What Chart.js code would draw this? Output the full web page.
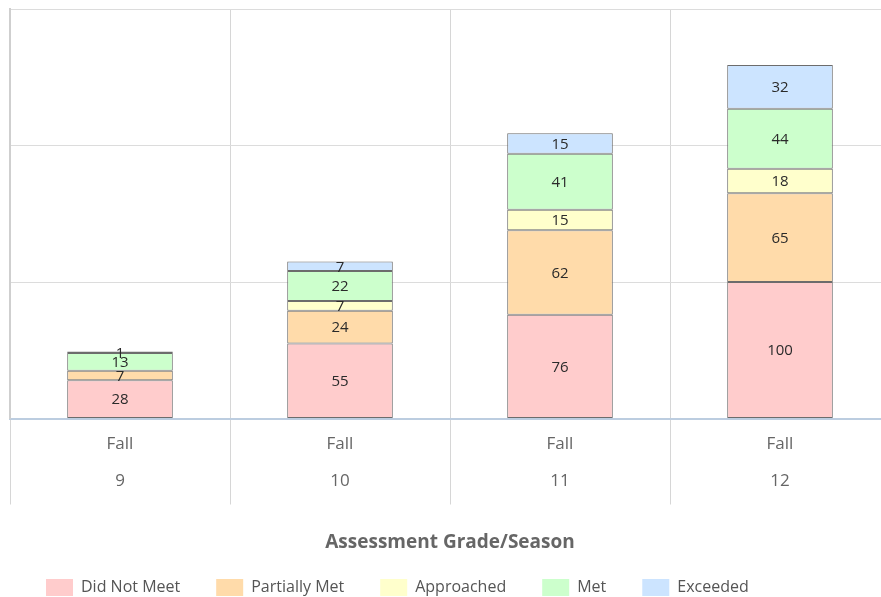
<!DOCTYPE html>
<html>
<head>
<meta charset="utf-8">
<script src="https://cdn.jsdelivr.net/npm/chart.js@4/dist/chart.umd.min.js"></script>
<style>
  html, body { margin: 0; padding: 0; background: #fff; overflow: hidden; }
  #wrap { position: relative; width: 900px; height: 597px; }
</style>
</head>
<body>
<div id="wrap"><canvas id="chart"></canvas></div>
<script>
// Categories: season on the first line, grade on the second
const categories = [["Fall", "9"], ["Fall", "10"], ["Fall", "11"], ["Fall", "12"]];

// Student counts per performance level
const didNotMeet   = [28, 55, 76, 100];
const partiallyMet = [7, 24, 62, 65];
const approached   = [0, 7, 15, 18];
const met          = [13, 22, 41, 44];
const exceeded     = [1, 7, 15, 32];

const seriesNames  = ["Did Not Meet", "Partially Met", "Approached", "Met", "Exceeded"];
const seriesColors = ["#ffcccc", "#ffdbaa", "#ffffcc", "#ccffcc", "#cce4ff"];
const seriesValues = [didNotMeet, partiallyMet, approached, met, exceeded];

const FONT = "'Open Sans', 'DejaVu Sans', sans-serif";

// Writes each segment's count in the middle of its segment
const segmentLabels = {
  id: "segmentLabels",
  afterDatasetsDraw(chart) {
    const ctx = chart.ctx;
    ctx.save();
    ctx.font = "15px " + FONT;
    ctx.fillStyle = "#2a2a2a";
    ctx.textAlign = "center";
    ctx.textBaseline = "middle";
    chart.data.datasets.forEach((ds, di) => {
      chart.getDatasetMeta(di).data.forEach((bar, i) => {
        const v = ds.data[i];
        if (!v) return;
        const mid = (bar.y + bar.base) / 2;
        ctx.fillText(String(v), bar.x, mid + 1);
      });
    });
    ctx.restore();
  }
};

new Chart(document.getElementById("chart"), {
  type: "bar",
  data: {
    labels: categories,
    datasets: seriesNames.map((name, k) => ({
      label: name,
      data: seriesValues[k],
      backgroundColor: seriesColors[k],
      borderColor: "#6c6c6c",
      borderWidth: 1,
      borderSkipped: false,
      barPercentage: 0.48,
      categoryPercentage: 1.0
    }))
  },
  options: {
    responsive: true,
    maintainAspectRatio: false,
    animation: false,
    layout: { padding: { left: 10, right: 10, top: 9, bottom: -9 } },
    scales: {
      x: {
        stacked: true,
        offset: true,
        grid: {
          offset: true,
          color: "#d6d6d6",
          lineWidth: 1,
          tickLength: 86,
          tickColor: "#d6d6d6"
        },
        border: { display: true, color: "#bccde0", width: 2 },
        ticks: {
          color: "#666",
          padding: -79,
          font: { family: FONT, size: 17, lineHeight: 36.8 / 17 }
        },
        title: {
          display: true,
          text: "Assessment Grade/Season",
          color: "#666",
          font: { family: FONT, size: 19, weight: "bold" },
          padding: { top: 111, bottom: -10.9 }
        }
      },
      y: {
        stacked: true,
        min: 0,
        max: 300,
        ticks: { display: false, stepSize: 100 },
        grid: { color: "#dcdcdc", drawTicks: false, tickLength: 0 },
        border: { display: true, color: "#cfcfcf", width: 2 }
      }
    },
    plugins: {
      legend: {
        position: "bottom",
        align: "start",
        labels: {
          boxWidth: 27,
          boxHeight: 17,
          padding: 36,
          color: "#555",
          font: { family: FONT, size: 16 },
          generateLabels(chart) {
            return chart.data.datasets.map((ds, i) => ({
              text: ds.label,
              fillStyle: ds.backgroundColor,
              strokeStyle: ds.backgroundColor,
              lineWidth: 0,
              fontColor: "#555",
              datasetIndex: i,
              hidden: false
            }));
          }
        }
      },
      tooltip: { enabled: false }
    }
  },
  plugins: [segmentLabels]
});
</script>
</body>
</html>
